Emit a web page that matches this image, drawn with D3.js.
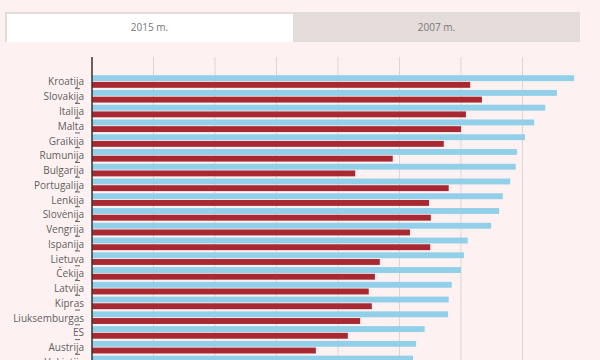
<!DOCTYPE html>
<html>
<head>
<meta charset="utf-8">
<script src="https://cdn.jsdelivr.net/npm/d3@7"></script>
<style>
  html, body { margin: 0; padding: 0; width: 600px; height: 360px; overflow: hidden; background: #fdf2f1; }
  svg { display: block; }
</style>
</head>
<body>
<script>
// ---- data ----
const tabs = ["2015 m.", "2007 m."];
const countries = ["Kroatija","Slovakija","Italija","Malta","Graikija","Rumunija","Bulgarija","Portugalija","Lenkija","Slovėnija","Vengrija","Ispanija","Lietuva","Čekija","Latvija","Kipras","Liuksemburgas","ES","Austrija","Vokietija"];
const values2015 = [78.4,75.6,73.7,71.9,70.4,69.1,68.9,68.0,66.8,66.2,64.9,61.1,60.5,60.0,58.5,58.0,57.9,54.1,52.7,52.2];
const values2007 = [61.5,63.4,60.8,60.0,57.2,48.9,42.8,58.0,54.8,55.1,51.7,55.0,46.8,46.0,45.0,45.5,43.6,41.6,36.4,40.0];
const seriesNames = ["2015", "2007"];
const gridTicks = [10,20,30,40,50,60,70];

const W = 600, H = 400;
const svg = d3.select("body").append("svg").attr("width", W).attr("height", H);

// ---- tabs ----
const tabX = d3.scaleBand().domain(tabs).range([6, 580]);
const tabG = svg.append("g");
tabG.append("rect").attr("x", 5).attr("y", 12).attr("width", 575).attr("height", 30).attr("fill", "#e4dcdb");
tabs.forEach((t, i) => {
  if (i === 0) {
    tabG.append("rect").attr("x", tabX(t) + 1).attr("y", 14).attr("width", tabX.bandwidth() - 1).attr("height", 28).attr("fill", "#ffffff");
  }
  tabG.append("text").attr("x", tabX(t) + tabX.bandwidth() / 2).attr("y", 28)
    .attr("text-anchor", "middle").attr("dominant-baseline", "middle")
    .attr("font-family", "'Open Sans', sans-serif").attr("font-size", 10)
    .attr("fill", "#787878").text(t);
});

// ---- scales ----
const x = d3.scaleLinear().domain([0, 80]).range([92, 584]);
const step = 14.76;
const plotTop = 74.4;
const y0 = d3.scaleBand().domain(countries).range([plotTop, plotTop + step * countries.length]).paddingInner(0);
const y1 = d3.scaleBand().domain(seriesNames).range([0.8, 13.4]).paddingInner(0.12);
const colors = { "2015": "#92d0e9", "2007": "#a92932" };

// grid
svg.append("g").selectAll("line").data(gridTicks).join("line")
  .attr("x1", d => x(d)).attr("x2", d => x(d))
  .attr("y1", 57).attr("y2", H)
  .attr("stroke", "#ddd4d4").attr("stroke-width", 1);

// bars
const rows = countries.map((c, i) => ({ c, v: { "2015": values2015[i], "2007": values2007[i] } }));
const g = svg.append("g");
rows.forEach(r => {
  seriesNames.forEach(s => {
    g.append("rect")
      .attr("x", x(0))
      .attr("y", y0(r.c) + y1(s))
      .attr("width", x(r.v[s]) - x(0))
      .attr("height", y1.bandwidth())
      .attr("fill", colors[s]);
  });
});

// labels
svg.append("g").selectAll("text").data(countries).join("text")
  .attr("x", 84).attr("y", d => y0(d) + 8.4)
  .attr("text-anchor", "end").attr("dominant-baseline", "middle")
  .attr("font-family", "'Open Sans', sans-serif").attr("font-size", 10)
  .attr("fill", "#606060").text(d => d);

// small marks at row boundaries
svg.append("g").selectAll("line").data(countries).join("line")
  .attr("x1", 75).attr("x2", 80)
  .attr("y1", d => y0(d) + step - 0.5).attr("y2", d => y0(d) + step - 0.5)
  .attr("stroke", "#666").attr("stroke-width", 1);

// axis line
svg.append("line").attr("x1", x(0)).attr("x2", x(0)).attr("y1", 57).attr("y2", H)
  .attr("stroke", "#333").attr("stroke-width", 1.5);
</script>
</body>
</html>
